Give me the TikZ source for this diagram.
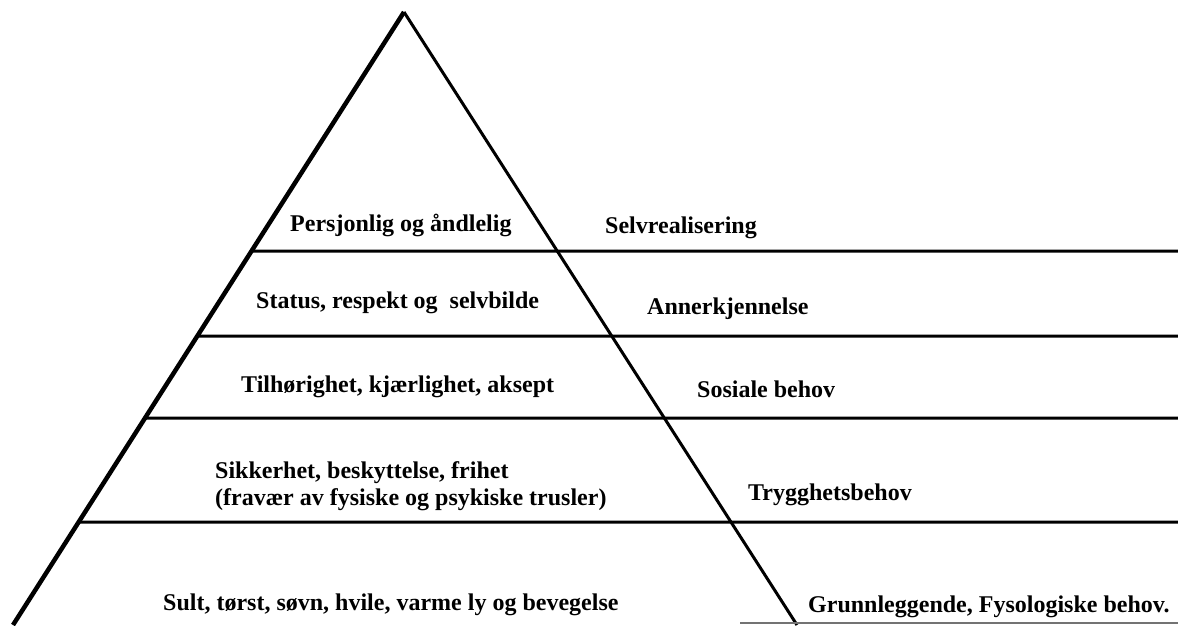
\documentclass[tikz,border=0pt]{standalone}
\usepackage{fontspec}
\setmainfont{Liberation Serif}
\usetikzlibrary{calc}
\begin{document}
\begin{tikzpicture}[x=1pt,y=-1pt,
  lbl/.style={anchor=base west,inner sep=0pt,font=\fontsize{24}{27}\selectfont\bfseries,align=left},
  hline/.style={line width=3pt,black},
  lside/.style={line width=4.5pt,black},
  rside/.style={line width=3pt,black}]
\useasboundingbox (0,0) rectangle (1178,625);
% pyramid corners
\coordinate (apex) at (404,12);
\coordinate (bl) at (13,625);
\coordinate (br) at (797,625);
\draw[lside] (bl) -- (apex);
\draw[rside] (apex) -- (br);
% horizontal lines (start on left edge)
\foreach \yy/\nm in {251/a,336/b,418/c,522/d}{
  \coordinate (L\nm) at ($(apex)!{(\yy-12)/613}!(bl)$);
  \coordinate (R\nm) at (1178,\yy);
  \draw[hline] (L\nm) -- (R\nm);
}
\coordinate (Be) at (740,623);
\coordinate (Re) at (1178,623);
\draw[line width=2pt,black!55] (Be) -- (Re);
% labels
\node[lbl] (t1) at (290,231) {Persjonlig og åndlelig};
\node[lbl] (r1) at (605,233) {Selvrealisering};
\node[lbl] (t2) at (256,308) {Status, respekt og\ \ selvbilde};
\node[lbl] (r2) at (647,314) {Annerkjennelse};
\node[lbl] (t3) at (241,392) {Tilhørighet, kjærlighet, aksept};
\node[lbl] (r3) at (697,397) {Sosiale behov};
\node[lbl] (t4) at (215,505) {Sikkerhet, beskyttelse, frihet\\(fravær av fysiske og psykiske trusler)};
\node[lbl] (r4) at (748,500) {Trygghetsbehov};
\node[lbl] (t5) at (163,610) {Sult, tørst, søvn, hvile, varme ly og bevegelse};
\node[lbl] (r5) at (808,612) {Grunnleggende, Fysologiske behov.};
\end{tikzpicture}
\end{document}
